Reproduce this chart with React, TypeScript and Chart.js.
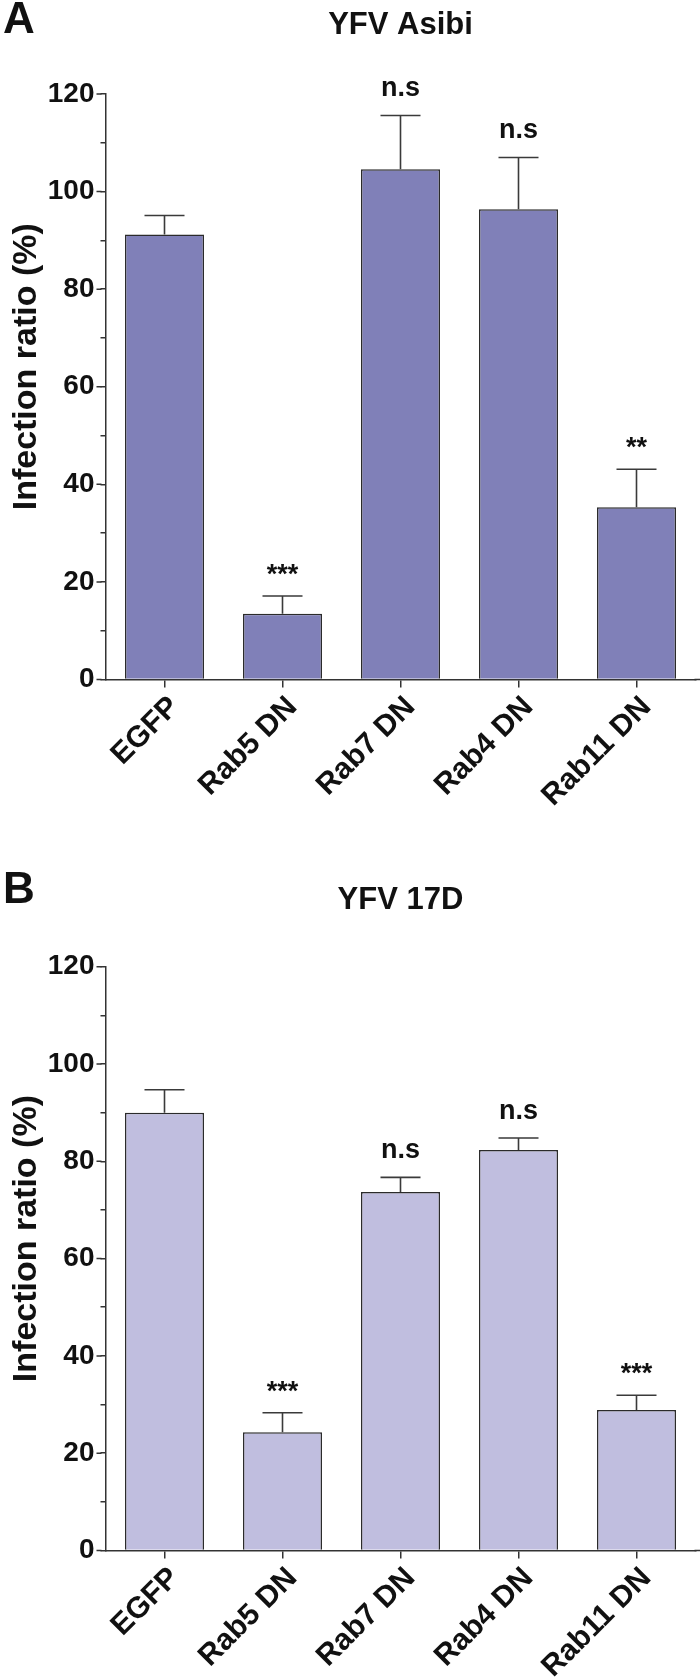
import React, { useEffect, useRef } from "react";
import { Chart, registerables } from "chart.js";

Chart.register(...registerables);

const categories = ["EGFP", "Rab5 DN", "Rab7 DN", "Rab4 DN", "Rab11 DN"];

const asibiMeans = [91.2, 13.5, 104.6, 96.4, 35.3];
const asibiErrors = [3.9, 3.6, 11.0, 10.6, 7.8];
const asibiMarks = ["", "***", "n.s", "n.s", "**"];

const d17Means = [90.0, 24.3, 73.7, 82.3, 28.9];
const d17Errors = [4.7, 4.0, 3.0, 2.5, 3.0];
const d17Marks = ["", "***", "n.s", "n.s", "***"];

const yMin = 0;
const yMax = 120;
const yStep = 10;
const yLabelStep = 20;

const FONT = "'Liberation Sans', Arial, Helvetica, sans-serif";

type PanelProps = {
  letter: string;
  letterY: number;
  title: string;
  titleY: number;
  means: number[];
  errors: number[];
  marks: string[];
  fill: string;
  padTop: number;
  xAxisHeight: number;
  height: number;
};

function Panel(props: PanelProps) {
  const ref = useRef<HTMLCanvasElement | null>(null);

  useEffect(() => {
    const canvas = ref.current;
    if (!canvas) return;
    const { letter, letterY, title, titleY, means, errors, marks, fill, padTop, xAxisHeight } = props;

    const decor = {
      id: "decor",
      afterDatasetsDraw(chart: any) {
        const ctx = chart.ctx;
        const meta = chart.getDatasetMeta(0);
        const ys = chart.scales.y;
        const area = chart.chartArea;
        ctx.save();
        ctx.strokeStyle = "#333";
        ctx.lineWidth = 1.5;
        // extend x-axis line to the right edge
        ctx.beginPath();
        ctx.moveTo(area.right - 1, ys.getPixelForValue(0));
        ctx.lineTo(chart.width, ys.getPixelForValue(0));
        // longer major ticks on the y axis
        for (let v = yMin; v <= yMax; v += yLabelStep) {
          const py = ys.getPixelForValue(v);
          ctx.moveTo(area.left - 9, py);
          ctx.lineTo(area.left - 4, py);
        }
        ctx.stroke();
        // error bars and marks
        meta.data.forEach((el: any, i: number) => {
          const yBar = ys.getPixelForValue(means[i]);
          const yTop = ys.getPixelForValue(means[i] + errors[i]);
          ctx.strokeStyle = "#3a3a3a";
          ctx.lineWidth = 1.6;
          ctx.beginPath();
          ctx.moveTo(el.x, yBar);
          ctx.lineTo(el.x, yTop);
          ctx.moveTo(el.x - 20, yTop);
          ctx.lineTo(el.x + 20, yTop);
          ctx.stroke();
          const m = marks[i];
          if (m) {
            ctx.fillStyle = "#111";
            ctx.font = `bold 27px ${FONT}`;
            ctx.textAlign = "center";
            ctx.textBaseline = "alphabetic";
            const off = m === "n.s" ? 19 : 13;
            ctx.fillText(m, el.x, yTop - off);
          }
        });
        // title
        ctx.fillStyle = "#111";
        ctx.font = `bold 31px ${FONT}`;
        ctx.textAlign = "center";
        ctx.textBaseline = "middle";
        ctx.fillText(title, (area.left + area.right) / 2, titleY);
        // panel letter
        ctx.font = `bold 44px ${FONT}`;
        ctx.textAlign = "left";
        ctx.textBaseline = "alphabetic";
        ctx.fillText(letter, 3, letterY);
        // y-axis title
        ctx.font = `bold 34px ${FONT}`;
        ctx.textAlign = "center";
        ctx.textBaseline = "middle";
        ctx.translate(27, (area.top + area.bottom) / 2 - 20);
        ctx.rotate(-Math.PI / 2);
        ctx.fillText("Infection ratio (%)", 0, 0);
        ctx.restore();
      },
    };

    const chart = new Chart(canvas, {
      type: "bar",
      data: {
        labels: categories,
        datasets: [
          {
            data: means,
            backgroundColor: fill,
            borderColor: "#2b2b2b",
            borderWidth: 1.5,
            barPercentage: 0.67,
            categoryPercentage: 1,
          },
        ],
      },
      options: {
        responsive: false,
        animation: false,
        layout: { padding: { top: padTop, right: 4.5, left: 0, bottom: 0 } },
        plugins: { legend: { display: false }, tooltip: { enabled: false }, title: { display: false } },
        scales: {
          x: {
            type: "category",
            grid: { display: true, drawOnChartArea: false, offset: false, tickLength: 8, color: "#333", lineWidth: 1.5 },
            border: { display: true, color: "#333", width: 1.5 },
            ticks: {
              autoSkip: false,
              maxRotation: 45,
              minRotation: 45,
              padding: 2,
              labelOffset: 10,
              color: "#111",
              font: { family: FONT, size: 30, weight: "bold" },
            },
            afterFit: (s: any) => {
              s.height = xAxisHeight;
            },
          },
          y: {
            min: yMin,
            max: yMax,
            grid: { display: true, drawOnChartArea: false, tickLength: 5, color: "#333", lineWidth: 1.5 },
            border: { display: true, color: "#333", width: 1.5 },
            ticks: {
              stepSize: yStep,
              padding: 6,
              color: "#111",
              font: { family: FONT, size: 28, weight: "bold" },
              callback: (v: any) => (Number(v) % yLabelStep === 0 ? String(v) : ""),
            },
            afterFit: (s: any) => {
              s.width = 105.5;
            },
          },
        },
      },
      plugins: [decor],
    } as any);

    return () => chart.destroy();
  }, []);

  return <canvas ref={ref} width={700} height={props.height} style={{ display: "block", width: 700, height: props.height }} />;
}

export default function App() {
  return (
    <div style={{ position: "absolute", left: 0, top: 0, width: 700, height: 1680, background: "#fff" }}>
      <Panel
        letter="A"
        letterY={33}
        title="YFV Asibi"
        titleY={25}
        means={asibiMeans}
        errors={asibiErrors}
        marks={asibiMarks}
        fill="#8080b8"
        padTop={94}
        xAxisHeight={160.5}
        height={840}
      />
      <Panel
        letter="B"
        letterY={63}
        title="YFV 17D"
        titleY={60}
        means={d17Means}
        errors={d17Errors}
        marks={d17Marks}
        fill="#c0bedf"
        padTop={126.7}
        xAxisHeight={129.5}
        height={840}
      />
    </div>
  );
}
